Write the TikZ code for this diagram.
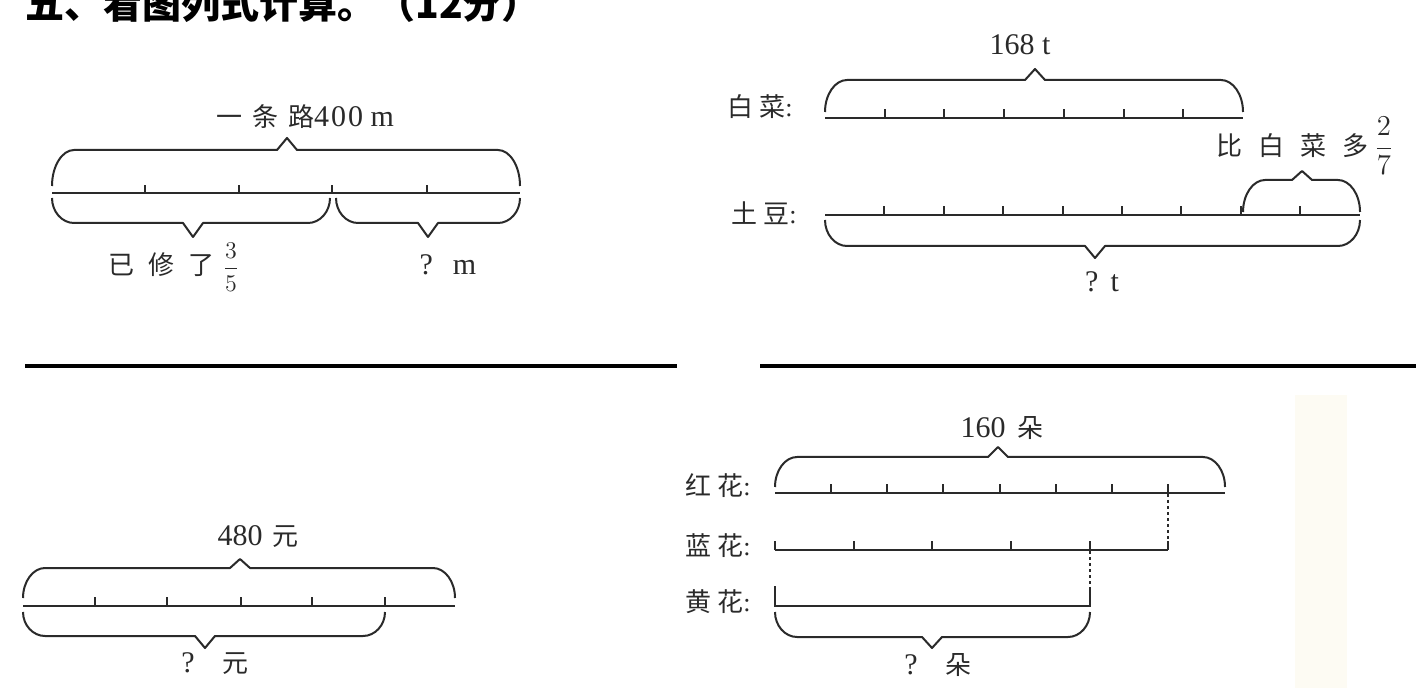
\documentclass[tikz,border=0pt]{standalone}
\usepackage{fontspec}
\setmainfont{Liberation Serif}
\newfontfamily\cjk{Noto Sans CJK SC}
\definecolor{ink}{HTML}{2A2A2A}
\definecolor{cream}{HTML}{FDFBF3}
\newcommand{\g}[1]{\hspace{#1pt}}
\newcommand{\brc}[6]{%
  \draw[bracepath] (#1,#3) .. controls (#1,{#4+0.45*(#3-#4)}) and ({#1+10},#4) .. ({#1+22},#4)
    -- ({#5-10},#4) -- (#5,#6) -- ({#5+10},#4) -- ({#2-22},#4)
    .. controls ({#2-10},#4) and (#2,{#4+0.45*(#3-#4)}) .. (#2,#3);}
\tikzset{
  bracepath/.style={draw=ink, line width=1pt, line join=round},
  barline/.style={draw=ink, line width=1.1pt},
  tickline/.style={draw=ink, line width=1pt},
  dotline/.style={draw=ink, line width=1pt, dash pattern=on 1.5pt off 1.5pt},
  ansline/.style={draw=black, line width=1.6pt},
  lab/.style={inner sep=0pt, text=ink, font=\fontsize{13}{15}\selectfont},
  num/.style={inner sep=0pt, text=ink, font=\fontsize{15}{17}\selectfont},
}
\begin{document}
\begin{tikzpicture}[x=0.5pt,y=-0.5pt]
\useasboundingbox (0,0) rectangle (1416,688);
\fill[white] (0,0) rectangle (1416,688);
\fill[cream] (1295,395) rectangle (1347,688);

% title
\node[inner sep=0pt, anchor=base west, text=black, font=\fontsize{19.5}{21}\selectfont\cjk\bfseries] (title) at (25,19) {五、看图列式计算。（12分）};

% answer lines
\coordinate (a1) at (25,366); \coordinate (a2) at (677,366);
\coordinate (b1) at (760,366); \coordinate (b2) at (1416,366);
\draw[ansline] (a1) -- (a2);
\draw[ansline] (b1) -- (b2);

% ---------- Diagram 1 ----------
\coordinate (d1s) at (52,193); \coordinate (d1e) at (520,193);
\draw[barline] (d1s) -- (d1e);
\foreach \x in {145,239,332,427} \draw[tickline] (\x,193) -- (\x,185);
\brc{52}{520}{186}{150}{287}{138}
\brc{52}{330}{198}{223}{193}{237}
\brc{336}{520}{198}{223}{428}{237}
\node[lab] (d1top) at (305,117) {{\cjk 一\g{5}条\g{5}路}{\fontsize{15}{17}\selectfont 4\g{1}0\g{1}0 m}};
\node[lab] (d1left) at (174,267) {{\cjk 已\g{7}修\g{7}了}\g{4}{\fontsize{12}{14}\selectfont$\displaystyle\frac{3}{5}$}};
\node[num] (d1right) at (448,265) {?\g{10}m};

% ---------- Diagram 2 ----------
\node[num] (d2top) at (1020,45) {168 t};
\node[lab] (d2l1) at (760,107) {{\cjk 白\g{3}菜}:};
\coordinate (d2s) at (825,118); \coordinate (d2e) at (1243,118);
\draw[barline] (d2s) -- (d2e);
\foreach \x in {885,944,1004,1064,1124,1183} \draw[tickline] (\x,118) -- (\x,109);
\brc{825}{1243}{112}{80}{1035}{69}
\node[lab] (d2more) at (1305,146) {{\cjk 比\g{8}白\g{8}菜\g{8}多}\g{3}{\fontsize{15}{17}\selectfont$\displaystyle\frac{2}{7}$}};
\node[lab] (d2l2) at (764,213) {{\cjk 土\g{3}豆}:};
\coordinate (d2s2) at (825,215); \coordinate (d2e2) at (1360,215);
\draw[barline] (d2s2) -- (d2e2);
\foreach \x in {884,944,1003,1063,1122,1181,1241,1300} \draw[tickline] (\x,215) -- (\x,206);
\brc{1243}{1360}{212}{180}{1302}{171}
\brc{825}{1360}{220}{246}{1095}{258}
\node[num] (d2bot) at (1102,282) {?\g{6}t};

% ---------- Diagram 3 ----------
\node[lab] (d3top) at (258,537) {{\fontsize{15}{17}\selectfont 480}\g{5}{\cjk 元}};
\coordinate (d3s) at (23,606); \coordinate (d3e) at (455,606);
\draw[barline] (d3s) -- (d3e);
\foreach \x in {95,167,241,312,385} \draw[tickline] (\x,606) -- (\x,597);
\brc{23}{455}{598}{568}{240}{559}
\brc{23}{385}{612}{636}{205}{648}
\node[lab] (d3bot) at (215,664) {{\fontsize{15}{17}\selectfont ?}\g{14}{\cjk 元}};

% ---------- Diagram 4 ----------
\node[lab] (d4top) at (1002,428) {{\fontsize{15}{17}\selectfont 160}\g{6}{\cjk 朵}};
\node[lab] (d4l1) at (718,486) {{\cjk 红\g{3}花}:};
\node[lab] (d4l2) at (718,546) {{\cjk 蓝\g{3}花}:};
\node[lab] (d4l3) at (718,602) {{\cjk 黄\g{3}花}:};
% red
\coordinate (r1) at (775,493); \coordinate (r2) at (1225,493);
\draw[barline] (r1) -- (r2);
\foreach \x in {831,887,943,1000,1056,1112,1168} \draw[tickline] (\x,493) -- (\x,484);
\brc{775}{1225}{487}{457}{998}{447}
% blue
\coordinate (u1) at (775,550); \coordinate (u2) at (1168,550);
\draw[barline] (u1) -- (u2);
\foreach \x in {775,854,932,1011,1090,1168} \draw[tickline] (\x,550) -- (\x,541);
\coordinate (rt) at (1168,494); \coordinate (ub) at (1168,541);
\draw[dotline] (rt) -- (ub);
% yellow
\coordinate (y1) at (775,606); \coordinate (y2) at (1090,606);
\draw[barline] (775,586) -- (y1) -- (y2) -- (1090,590);
\coordinate (yt) at (1090,590); \coordinate (ut) at (1090,551);
\draw[dotline] (ut) -- (yt);
\brc{775}{1090}{612}{637}{932}{648}
\node[lab] (d4bot) at (938,665) {{\fontsize{15}{17}\selectfont ?}\g{14}{\cjk 朵}};
\end{tikzpicture}
\end{document}
